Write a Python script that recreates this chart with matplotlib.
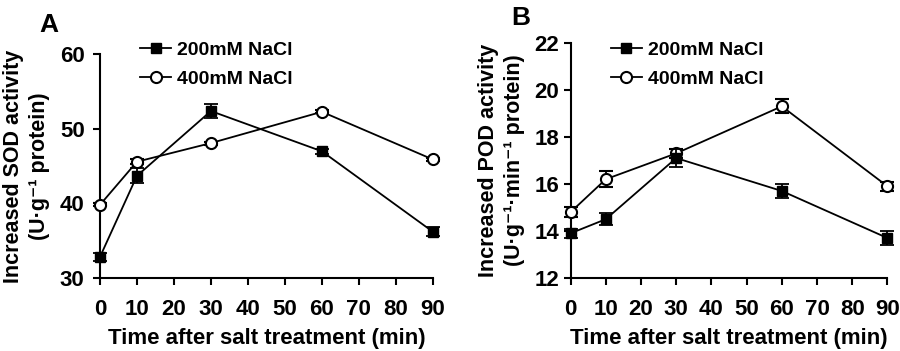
import matplotlib
matplotlib.use("Agg")
import matplotlib.pyplot as plt
from matplotlib.lines import Line2D

plt.rcParams['font.family'] = ['Liberation Sans', 'DejaVu Sans']
plt.rcParams['font.weight'] = 'bold'

time = [0, 10, 30, 60, 90]
sod_200 = [32.8, 43.7, 52.4, 47.0, 36.2]
sod_200_err = [0.5, 1.0, 0.9, 0.3, 0.6]
sod_400 = [39.8, 45.6, 48.1, 52.3, 45.9]
sod_400_err = [0.2, 0.3, 0.2, 0.2, 0.2]
pod_200 = [13.9, 14.5, 17.1, 15.7, 13.7]
pod_200_err = [0.2, 0.25, 0.4, 0.3, 0.3]
pod_400 = [14.8, 16.2, 17.3, 19.3, 15.9]
pod_400_err = [0.2, 0.35, 0.2, 0.3, 0.2]
labels = ['200mM NaCl', '400mM NaCl']
xticks = [0, 10, 20, 30, 40, 50, 60, 70, 80, 90]

fig = plt.figure(figsize=(9, 3.51), dpi=100)
axA = fig.add_axes([0.111, 0.208, 0.370, 0.637])
axB = fig.add_axes([0.634, 0.208, 0.352, 0.670])

def draw(ax, y1, e1, y2, e2, ylim, yticks, ylabel, leg_xy, ypad, ylpad):
    ax.errorbar(time, y1, yerr=e1, color='black', marker='s', ms=7,
                mfc='black', mec='black', lw=1.3, capsize=5, elinewidth=1.3,
                capthick=1.3, clip_on=False, zorder=4)
    ax.errorbar(time, y2, yerr=e2, color='black', marker='o', ms=8,
                mfc='white', mec='black', mew=1.5, lw=1.3, capsize=5,
                elinewidth=1.3, capthick=1.3, clip_on=False, zorder=3)
    ax.set_xlim(0, 90)
    ax.set_ylim(*ylim)
    ax.set_xticks(xticks)
    ax.set_yticks(yticks)
    for s in ['top', 'right']:
        ax.spines[s].set_visible(False)
    for s in ['left', 'bottom']:
        ax.spines[s].set_linewidth(1.5)
    ax.tick_params(direction='out', width=1.5, length=5, labelsize=16)
    ax.tick_params(axis='x', pad=10)
    ax.tick_params(axis='y', pad=ypad)
    for lab in ax.get_xticklabels() + ax.get_yticklabels():
        lab.set_fontweight('bold')
    ax.set_xlabel('Time after salt treatment (min)', fontsize=16,
                  fontweight='bold', labelpad=6)
    ax.set_ylabel(ylabel, fontsize=15.5, fontweight='bold', labelpad=ylpad,
                  linespacing=1.3)
    h1 = Line2D([], [], color='black', marker='s', ms=7, lw=1.3)
    h2 = Line2D([], [], color='black', marker='o', ms=8, mfc='white', mew=1.5, lw=1.3)
    leg = ax.legend([h1, h2], labels, loc='upper left',
                    bbox_to_anchor=leg_xy, bbox_transform=fig.transFigure,
                    frameon=False, fontsize=14, handlelength=1.6,
                    handletextpad=0.3, labelspacing=0.6, borderpad=0)
    for t in leg.get_texts():
        t.set_fontweight('bold')

draw(axA, sod_200, sod_200_err, sod_400, sod_400_err, (30, 60), [30, 40, 50, 60],
     'Increased SOD activity\n(U·g⁻¹ protein)', (0.145, 0.91), 6, 7)
draw(axB, pod_200, pod_200_err, pod_400, pod_400_err, (12, 22),
     [12, 14, 16, 18, 20, 22],
     'Increased POD activity\n(U·g⁻¹·min⁻¹ protein)', (0.668, 0.91), 3, 7)

fig.text(0.044, 0.91, 'A', fontsize=19, fontweight='bold')
fig.text(0.568, 0.93, 'B', fontsize=19, fontweight='bold')

fig.savefig('out.png', dpi=100)
